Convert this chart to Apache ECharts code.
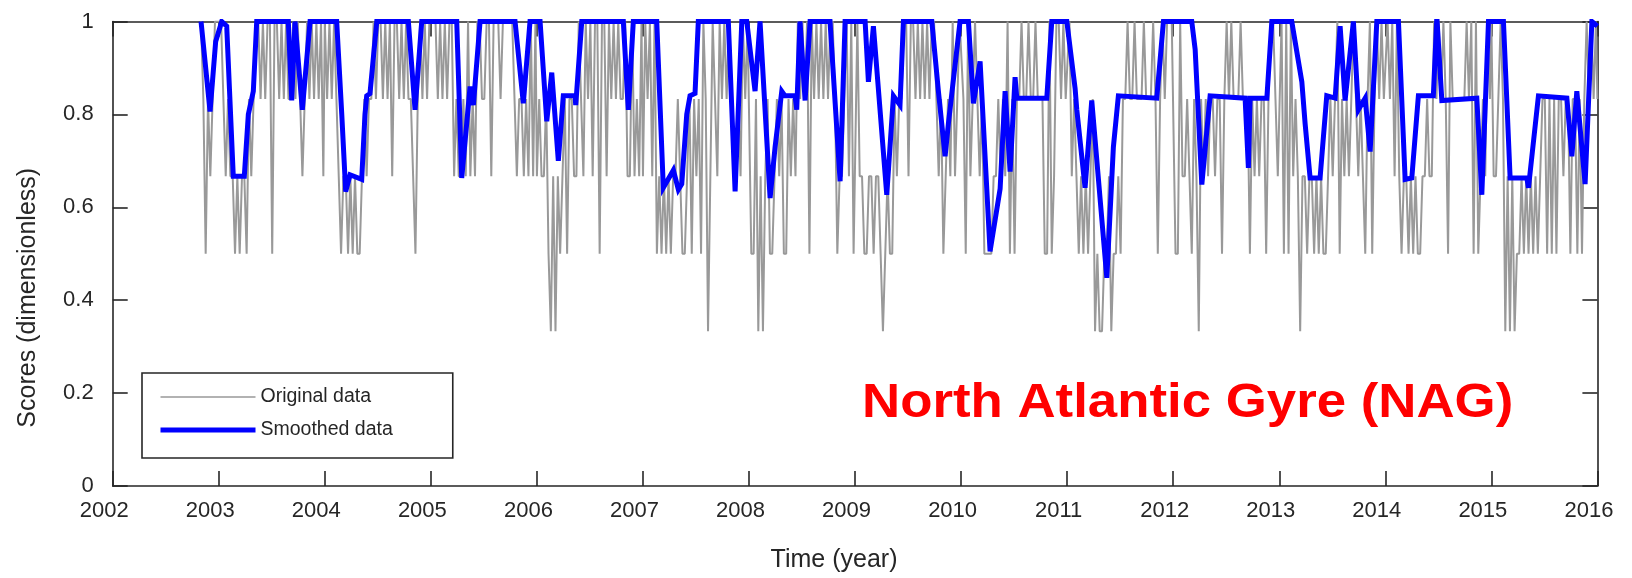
<!DOCTYPE html>
<html>
<head>
<meta charset="utf-8">
<title>North Atlantic Gyre (NAG) scores</title>
<script src="https://cdn.jsdelivr.net/npm/echarts@6/dist/echarts.min.js"></script>
<style>
  html, body { margin: 0; padding: 0; background: #ffffff; }
  #chart { width: 1632px; height: 578px; }
</style>
</head>
<body>
<div id="chart"></div>
<script>
// Original scores: one value per 8-day composite, stored in sixths (score = k / 6).
// Composite index within the year gives the day of year (1 + 8 * index).
const STEP_DAYS = 8;
const FIRST_INDEX_2002 = 38;   // first composite of the record (day 305 of 2002)

const orig2002 = [6, 5, 3, 5, 4, 5, 6, 6];
const orig2003 = [6,6,5,4,5,4,4,3,4,3, 4,4,3,5,4,5,6,6,5,6, 5,6,6,3,6,6,5,6,5,6, 5,5,6,5,6,5,4,5,6,5, 6,5,6,5,6,4];
const orig2004 = [6,5,6,5,6,5,4,3,4,4, 3,4,3,4,3,3,4,5,4,5, 5,6,5,6,6,5,6,5,6,4, 6,6,5,6,5,6,5,5,4,3, 5,6,5,6,5,6];
const orig2005 = [6,6,6,5,6,5,6,5,6,6, 4,5,4,4,5,4,6,4,5,4, 6,6,5,5,6,6,4,6,6,6, 5,6,6,6,6,6,5,4,5,5, 4,5,4,6,4,6];
const orig2006 = [4,5,4,4,5,3,2,4,2,4, 3,4,5,3,5,5,4,4,6,5, 4,6,5,6,4,6,6,3,6,6, 4,6,5,6,5,6,5,5,6,4, 4,6,4,5,4,6];
const orig2007 = [4,6,5,6,4,6,3,4,3,4, 3,4,3,4,4,5,4,3,3,4, 5,3,5,4,5,3,6,5,2,4, 6,5,4,6,5,6,5,6,5,4, 4,5,4,6,5,6];
const orig2008 = [6,3,3,5,2,4,2,4,5,3, 3,4,5,4,5,3,3,5,4,5, 4,6,5,6,5,6,3,6,5,6, 5,6,5,6,5,6,6,5,3,4, 4,5,6,4,6,3];
const orig2009 = [3,6,4,4,3,3,4,4,3,4, 4,3,2,3,4,3,3,5,4,5, 5,6,6,4,6,6,5,6,5,6, 5,6,5,6,6,5,4,5,3,4, 5,4,6,4,5,6];
const orig2010 = [6,5,3,6,4,5,6,5,4,5, 3,3,3,3,4,4,5,4,5,4, 6,3,5,3,5,5,6,5,5,6, 5,5,6,5,5,5,3,3,6,3, 4,6,6,5,6,5];
const orig2011 = [5,6,4,5,4,3,4,3,4,3, 4,5,2,3,2,2,3,3,4,2, 3,3,4,3,5,5,6,5,5,6, 5,5,5,6,5,5,5,6,5,3, 5,6,5,6,6,6];
const orig2012 = [6,3,3,6,4,4,5,4,3,5, 4,2,5,4,5,4,5,5,4,5, 5,3,5,6,5,6,5,5,5,6, 5,5,5,3,5,4,5,4,5,5, 3,5,6,6,5,4];
const orig2013 = [4,6,3,6,3,6,4,5,4,2, 4,4,3,4,4,3,4,3,4,3, 3,4,5,4,5,6,3,5,4,5, 4,5,6,5,4,5,4,3,5,6, 3,5,6,5,6,5];
const orig2014 = [5,6,5,6,4,6,4,3,4,4, 3,4,3,4,3,3,4,4,5,4, 4,6,5,6,5,6,5,3,6,5, 5,5,5,5,5,6,5,6,3,6, 3,4,5,4,6,5];
const orig2015 = [6,4,4,5,6,5,2,4,2,4, 2,3,3,4,3,4,3,4,3,4, 3,4,5,5,3,5,3,5,3,5, 5,4,5,5,3,5,5,3,5,3, 5,6,5,6,5,6];
const orig2016 = [5];

const origYears = [
  [2002, orig2002], [2003, orig2003], [2004, orig2004], [2005, orig2005],
  [2006, orig2006], [2007, orig2007], [2008, orig2008], [2009, orig2009],
  [2010, orig2010], [2011, orig2011], [2012, orig2012], [2013, orig2013],
  [2014, orig2014], [2015, orig2015], [2016, orig2016]
];

// Smoothed score: [decimal year, score]
const smoothed = [
  [2002.833, 1.0], [2002.918, 0.806], [2002.971, 0.957], [2003.028, 1.0], [2003.075, 0.99],
  [2003.137, 0.667], [2003.241, 0.667], [2003.279, 0.80], [2003.326, 0.85], [2003.358, 1.0],
  [2003.656, 1.0], [2003.688, 0.83], [2003.719, 1.0], [2003.788, 0.81], [2003.861, 1.0],
  [2004.112, 1.0], [2004.160, 0.80], [2004.197, 0.634], [2004.238, 0.67], [2004.348, 0.66],
  [2004.379, 0.80], [2004.395, 0.84], [2004.426, 0.845], [2004.490, 1.0], [2004.788, 1.0],
  [2004.851, 0.81], [2004.914, 1.0], [2005.244, 1.0], [2005.291, 0.663], [2005.370, 0.86],
  [2005.401, 0.82], [2005.464, 1.0], [2005.794, 1.0], [2005.872, 0.824], [2005.935, 1.0],
  [2006.030, 1.0], [2006.093, 0.785], [2006.140, 0.89], [2006.202, 0.70], [2006.249, 0.84],
  [2006.360, 0.84], [2006.366, 0.82], [2006.423, 1.0], [2006.815, 1.0], [2006.862, 0.81],
  [2006.909, 1.0], [2007.130, 1.0], [2007.192, 0.642], [2007.287, 0.68], [2007.334, 0.638],
  [2007.366, 0.65], [2007.413, 0.80], [2007.444, 0.84], [2007.491, 0.845], [2007.522, 1.0],
  [2007.805, 1.0], [2007.869, 0.634], [2007.932, 1.0], [2007.979, 1.0], [2008.057, 0.85],
  [2008.104, 1.0], [2008.199, 0.62], [2008.246, 0.73], [2008.309, 0.85], [2008.340, 0.84],
  [2008.434, 0.84], [2008.450, 0.81], [2008.481, 1.0], [2008.529, 0.83], [2008.576, 1.0],
  [2008.764, 1.0], [2008.859, 0.656], [2008.906, 1.0], [2009.095, 1.0], [2009.126, 0.87],
  [2009.173, 0.99], [2009.299, 0.627], [2009.362, 0.84], [2009.424, 0.82], [2009.456, 1.0],
  [2009.724, 1.0], [2009.786, 0.85], [2009.849, 0.71], [2009.880, 0.78], [2009.990, 1.0],
  [2010.069, 1.0], [2010.116, 0.824], [2010.179, 0.914], [2010.273, 0.505], [2010.368, 0.64],
  [2010.415, 0.85], [2010.462, 0.677], [2010.509, 0.88], [2010.525, 0.835], [2010.808, 0.835],
  [2010.855, 1.0], [2010.997, 1.0], [2011.075, 0.856], [2011.091, 0.81], [2011.169, 0.642],
  [2011.232, 0.83], [2011.374, 0.448], [2011.436, 0.73], [2011.483, 0.84], [2011.845, 0.835],
  [2011.908, 1.0], [2012.175, 1.0], [2012.207, 0.94], [2012.270, 0.649], [2012.348, 0.84],
  [2012.678, 0.835], [2012.709, 0.685], [2012.725, 0.835], [2012.883, 0.835], [2012.930, 1.0],
  [2013.118, 1.0], [2013.213, 0.87], [2013.244, 0.78], [2013.291, 0.663], [2013.385, 0.663],
  [2013.448, 0.84], [2013.527, 0.835], [2013.574, 0.99], [2013.621, 0.83], [2013.699, 1.0],
  [2013.746, 0.81], [2013.810, 0.835], [2013.857, 0.72], [2013.920, 1.0], [2014.124, 1.0],
  [2014.187, 0.66], [2014.250, 0.663], [2014.312, 0.84], [2014.453, 0.84], [2014.486, 1.01],
  [2014.533, 0.83], [2014.863, 0.835], [2014.910, 0.627], [2014.973, 1.0], [2015.114, 1.0],
  [2015.177, 0.663], [2015.335, 0.663], [2015.350, 0.642], [2015.444, 0.84], [2015.712, 0.835],
  [2015.759, 0.71], [2015.806, 0.85], [2015.884, 0.65], [2015.948, 1.0], [2016.0, 0.99]
];

const X_MIN = 2002, X_MAX = 2016, X_STEP = 1;
const Y_MIN = 0, Y_MAX = 1, Y_STEP = 0.2;

// Expand the per-year composites into [decimal year, score] points
const original = [];
origYears.forEach(([year, values]) => {
  const first = year === 2002 ? FIRST_INDEX_2002 : 0;
  values.forEach((sixths, i) => {
    const t = year + ((first + i) * STEP_DAYS) / 365;
    original.push([+t.toFixed(4), sixths / 6]);
  });
});

const FONT = '"Liberation Sans", Arial, Helvetica, sans-serif';
const INK = '#262626';
const GREY = '#999999';
const BLUE = '#0000ff';

const chart = echarts.init(document.getElementById('chart'), null, { renderer: 'canvas' });

const frameLine = { show: true, onZero: false, lineStyle: { color: INK, width: 1.6 } };
const frameTick = { show: true, inside: true, length: 15, lineStyle: { color: INK, width: 1.6 } };

chart.setOption({
  animation: false,
  backgroundColor: '#ffffff',
  textStyle: { fontFamily: FONT },
  graphic: [
    {
      type: 'text',
      x: 862,
      y: 404,
      scaleX: 1.1,
      z: 10,
      style: {
        text: 'North Atlantic Gyre (NAG)',
        fill: '#ff0000',
        font: 'bold 48px ' + FONT,
        align: 'left',
        verticalAlign: 'middle'
      }
    }
  ],
  legend: {
    orient: 'vertical',
    left: 142,
    top: 373,
    padding: [14, 60, 18, 16],
    itemWidth: 95,
    itemHeight: 14,
    itemGap: 13,
    borderColor: INK,
    borderWidth: 1.6,
    borderRadius: 0,
    backgroundColor: '#ffffff',
    itemStyle: { color: 'transparent', borderWidth: 0 },
    textStyle: { fontSize: 19.5, color: INK, fontFamily: FONT },
    data: [
      { name: 'Original data', lineStyle: { color: GREY, width: 1.5 } },
      { name: 'Smoothed data', lineStyle: { color: BLUE, width: 5 } }
    ]
  },
  grid: { left: 112.7, right: 34.6, top: 21.5, bottom: 91, containLabel: false },
  xAxis: [
    {
      type: 'value', min: X_MIN, max: X_MAX, interval: X_STEP, position: 'bottom',
      axisLine: frameLine, axisTick: frameTick, splitLine: { show: false },
      axisLabel: {
        fontSize: 22, color: INK, margin: 14, padding: [0, 17, 0, 0],
        formatter: (v) => String(v)
      },
      name: 'Time (year)', nameLocation: 'middle', nameGap: 62,
      nameTextStyle: { fontSize: 25, color: INK, padding: [0, 42, 0, 0] }
    },
    {
      type: 'value', min: X_MIN, max: X_MAX, interval: X_STEP, position: 'top',
      axisLine: frameLine, axisTick: frameTick, axisLabel: { show: false },
      splitLine: { show: false }
    }
  ],
  yAxis: [
    {
      type: 'value', min: Y_MIN, max: Y_MAX, interval: Y_STEP, position: 'left',
      axisLine: frameLine, axisTick: frameTick, splitLine: { show: false },
      axisLabel: { fontSize: 22, color: INK, margin: 19, padding: [0, 0, 10, 0] },
      name: 'Scores (dimensionless)', nameLocation: 'middle', nameGap: 72, nameRotate: 90,
      nameTextStyle: { fontSize: 25, color: INK, padding: [0, 88, 0, 0] }
    },
    {
      type: 'value', min: Y_MIN, max: Y_MAX, interval: Y_STEP, position: 'right',
      axisLine: frameLine, axisTick: frameTick, axisLabel: { show: false },
      splitLine: { show: false }
    }
  ],
  series: [
    {
      name: 'Original data', type: 'line', data: original,
      xAxisIndex: 0, yAxisIndex: 0,
      symbol: 'none', showSymbol: false, smooth: false,
      lineStyle: { color: GREY, width: 2 },
      itemStyle: { color: GREY },
      z: 2
    },
    {
      name: 'Smoothed data', type: 'line', data: smoothed,
      xAxisIndex: 0, yAxisIndex: 0,
      symbol: 'none', showSymbol: false, smooth: false,
      lineStyle: { color: BLUE, width: 5, join: 'miter', miterLimit: 4 },
      itemStyle: { color: BLUE },
      z: 3
    }
  ]
});
</script>
</body>
</html>
